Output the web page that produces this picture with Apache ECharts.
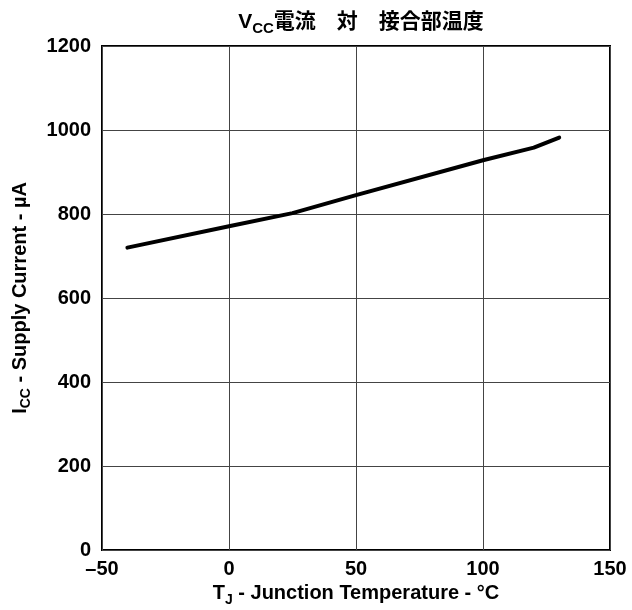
<!DOCTYPE html>
<html>
<head>
<meta charset="utf-8">
<script src="https://cdn.jsdelivr.net/npm/echarts@6/dist/echarts.min.js"></script>
<style>
  html, body { margin: 0; padding: 0; background: #fff; }
  #chart { width: 632px; height: 610px; }
</style>
</head>
<body>
<div id="chart"></div>
<script>
// Supply current versus junction temperature
const temperatures = [-40, 0, 25, 50, 100, 120, 130];   // °C
const supplyCurrent = [720, 771, 802, 845, 928, 958, 982]; // µA

const xTicks = { min: -50, max: 150, interval: 50 };
const yTicks = { min: 0, max: 1200, interval: 200 };

const font = '"Liberation Sans", Arial, Helvetica, sans-serif';

// rich-text styles: normal run plus a lowered, smaller subscript run
function subRich(size, subSize) {
  return {
    n: { fontFamily: '"Liberation Sans", "Noto Sans CJK JP", sans-serif', fontSize: size, fontWeight: 'bold', color: '#000', lineHeight: size + 6, verticalAlign: 'middle' },
    s: { fontFamily: font, fontSize: subSize, fontWeight: 'bold', color: '#000', lineHeight: size + 6, verticalAlign: 'bottom' }
  };
}

const chart = echarts.init(document.getElementById('chart'));
chart.setOption({
  backgroundColor: '#fff',
  animation: false,
  title: {
    text: '{n|V}{s|CC}{n|電流　対　接合部温度}',
    left: 356,
    textAlign: 'center',
    top: 4,
    textStyle: { rich: subRich(21, 15) }
  },
  grid: {
    left: 102, right: 22, top: 46, bottom: 60,
    containLabel: false, outerBoundsMode: 'none',
    show: true, borderColor: '#000', borderWidth: 2
  },
  xAxis: {
    type: 'value',
    min: xTicks.min, max: xTicks.max, interval: xTicks.interval,
    axisLine: { show: false },
    axisTick: { show: false },
    splitLine: { show: true, lineStyle: { color: '#444', width: 1 } },
    axisLabel: {
      margin: 9,
      color: '#000', fontFamily: font, fontSize: 20, fontWeight: 'bold',
      formatter: v => String(v).replace('-', '–')
    },
    name: '{n|T}{s|J}{n| - Junction Temperature - °C}',
    nameLocation: 'middle',
    nameGap: 27,
    nameTextStyle: { rich: subRich(20, 14) }
  },
  yAxis: {
    type: 'value',
    min: yTicks.min, max: yTicks.max, interval: yTicks.interval,
    axisLine: { show: false },
    axisTick: { show: false },
    splitLine: { show: true, lineStyle: { color: '#444', width: 1 } },
    axisLabel: {
      margin: 11,
      color: '#000', fontFamily: font, fontSize: 20, fontWeight: 'bold',
      formatter: v => String(v)
    },
    name: '{n|I}{s|CC}{n| - Supply Current - µA}',
    nameLocation: 'middle',
    nameRotate: 90,
    nameGap: 69,
    nameTextStyle: { rich: subRich(20, 14) }
  },
  series: [{
    type: 'line',
    data: temperatures.map((t, i) => [t, supplyCurrent[i]]),
    showSymbol: false,
    smooth: false,
    lineStyle: { color: '#000', width: 4, cap: 'round', join: 'round' }
  }]
});
</script>
</body>
</html>
